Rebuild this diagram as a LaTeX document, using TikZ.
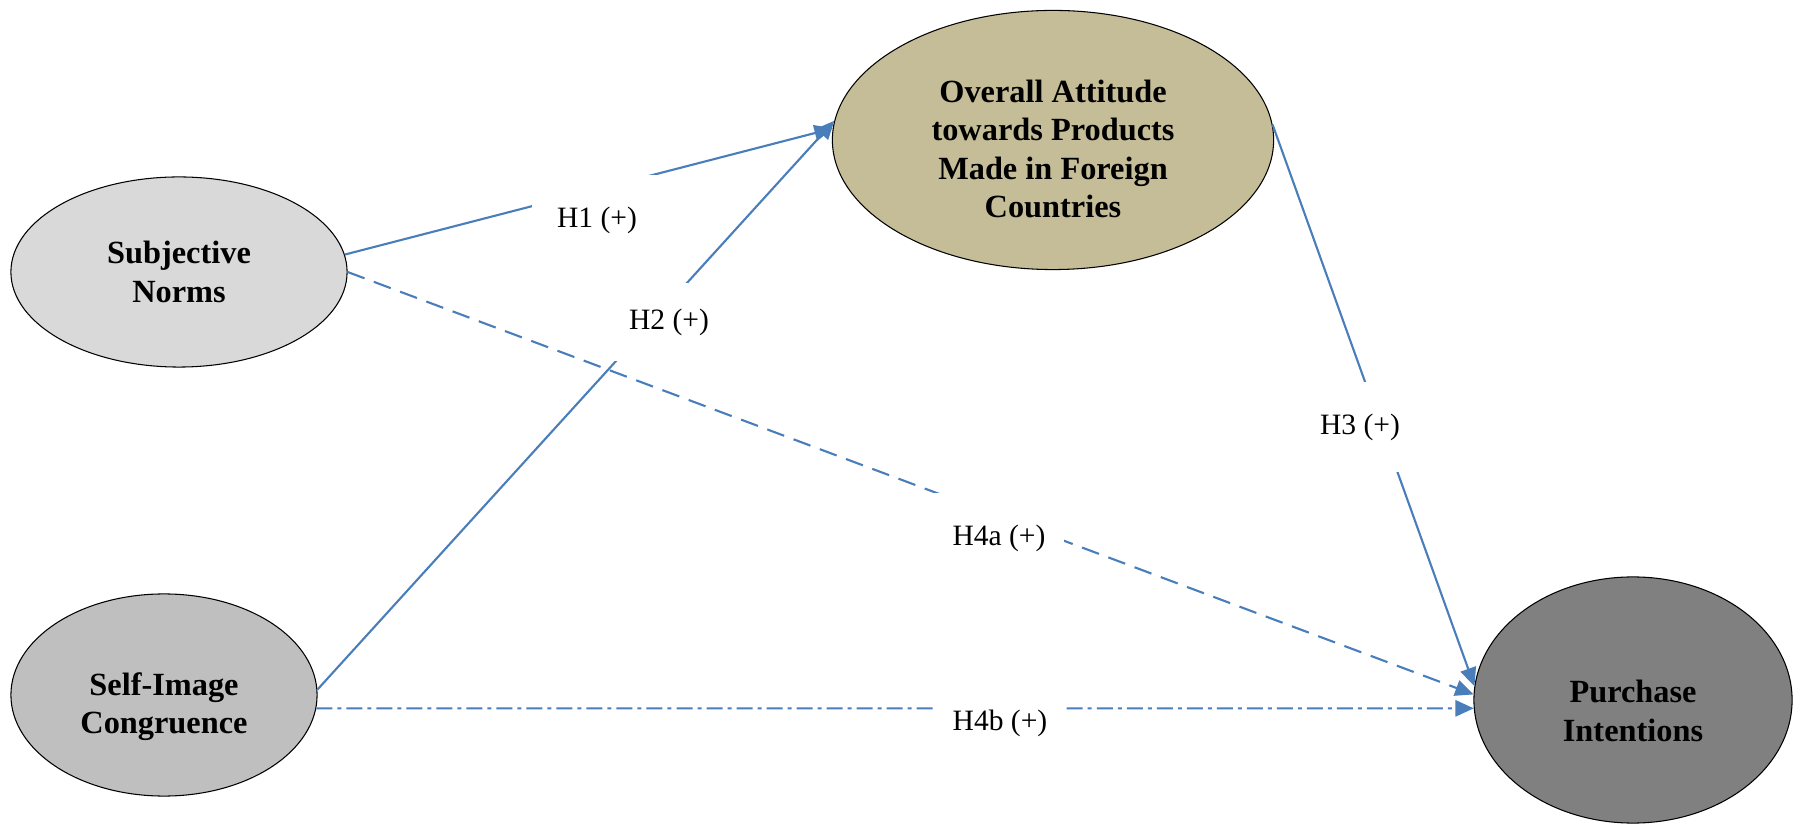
\documentclass[tikz,border=0pt]{standalone}
\usepackage{fontspec}
\setmainfont{Liberation Serif}
\usetikzlibrary{arrows.meta,shapes.geometric,positioning}

\definecolor{linkblue}{HTML}{4A7EBB}
\definecolor{sncol}{RGB}{217,217,217}
\definecolor{sicol}{RGB}{191,191,191}
\definecolor{oacol}{RGB}{196,189,151}
\definecolor{picol}{RGB}{128,128,128}

\begin{document}
\begin{tikzpicture}[x=0.01cm,y=-0.01cm,
	construct/.style={ellipse,draw=black,line width=0.3pt,inner sep=0pt},
	ctext/.style={align=center,inner sep=0pt,font=\fontsize{9.2}{10.9}\selectfont\bfseries},
	hyp/.style={fill=white,minimum width=1.3cm,minimum height=0.9cm,inner sep=0pt,
		font=\fontsize{8.4}{10}\selectfont},
	link/.style={draw=linkblue,line width=0.6pt,-{Triangle[length=5.2pt,width=4.6pt]}}]
			\useasboundingbox (0,0) rectangle (1800,825);
			\node[construct,fill=sncol,minimum width=3.36cm,minimum height=1.9cm,
				label={[ctext]center:{Subjective\\Norms}}] (sn) at (179,272) {};
			\node[construct,fill=sicol,minimum width=3.06cm,minimum height=2.02cm,
				label={[ctext,yshift=-0.12cm]center:{Self-Image\\Congruence}}] (si) at (164,695) {};
			\node[construct,fill=oacol,minimum width=4.41cm,minimum height=2.59cm,
				label={[ctext,yshift=-0.09cm]center:{Overall Attitude\\towards Products\\Made in Foreign\\Countries}}] (oa) at (1053,140) {};
			\node[construct,fill=picol,minimum width=3.18cm,minimum height=2.46cm,
				label={[ctext,yshift=-0.11cm]center:{Purchase\\Intentions}}] (pi) at (1633,700) {};
			\draw[link] (sn.6) -- (oa.177);
			\draw[link] (si.2) -- (oa.175);
			\draw[link] (oa.4) -- (pi.175);
			\draw[link,dash pattern=on 0.18cm off 0.1cm] (sn.0) -- (pi.178);
			\draw[link,dash pattern=on 0.16cm off 0.05cm on 0.04cm off 0.05cm] (si.355) -- (pi.183);
			% hypothesis labels, white boxes cut the lines
			\node[hyp] (h1) at (597,220) {H1 (+)};
			\node[hyp,minimum height=0.78cm] (h2) at (669,322) {H2 (+)};
			\node[hyp] (h3) at (1360,427) {H3 (+)};
			\node[hyp] (h4a) at (999,538) {H4a (+)};
			\node[hyp] (h4b) at (1000,723) {H4b (+)};
		\end{tikzpicture}
\end{document}
